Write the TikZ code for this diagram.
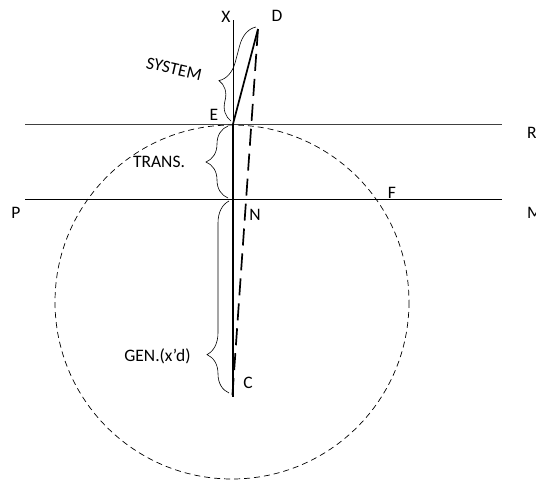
\documentclass[tikz,border=0pt]{standalone}
\usepackage{fontspec}
\setmainfont{Carlito}
\usetikzlibrary{decorations.pathreplacing}
\begin{document}
\begin{tikzpicture}[x=1pt,y=-1pt,
  lbl/.style={font=\fontsize{17.5}{20}\selectfont, inner sep=0pt},
  thinln/.style={line width=0.8pt},
  thickln/.style={line width=1.7pt},
  dashln/.style={line width=1.7pt, dash pattern=on 17pt off 8pt},
  circln/.style={line width=0.7pt, dash pattern=on 6pt off 4pt},
  brc/.style={decorate, decoration={brace, amplitude=#1}, line width=0.6pt}]
\useasboundingbox (0,0) rectangle (536,483);
% key points
\coordinate (Xt) at (233,20);
\coordinate (E) at (233,124);
\coordinate (D) at (258,29);
\coordinate (C) at (233,397);
\coordinate (Cd) at (232.3,397);
\coordinate (Rl) at (25,124);
\coordinate (Rr) at (502,124);
\coordinate (Pl) at (25,199);
\coordinate (Mr) at (502,199);
\coordinate (O) at (232,302);
% horizontal lines
\draw[thinln, black!75] (Rl) -- (Rr);
\draw[thinln] (Pl) -- (Mr);
% circle
\draw[circln] (O) circle[radius=177];
% verticals
\draw[thinln] (Xt) -- (E);
\draw[thickln] (E) -- (C);
\draw[thickln] (E) -- (D);
\draw[dashln] (D) -- (Cd);
% braces
\draw[brc=22pt, decoration={aspect=0.37}] (231,121) -- (256,27);
\draw[brc=22pt] (228,198) -- (228,126);
\draw[brc=22pt, decoration={aspect=0.2}] (229,393) -- (229,201);
% labels
\node[lbl] (lX) at (226,17) {X};
\node[lbl] (lD) at (277,16) {D};
\node[lbl] (lE) at (214,115) {E};
\node[lbl, anchor=west] (lR) at (527,133) {R};
\node[lbl, anchor=west] (lM) at (527,213) {M};
\node[lbl] (lP) at (16,213) {P};
\node[lbl] (lF) at (392,193) {F};
\node[lbl] (lN) at (255,215) {N};
\node[lbl] (lC) at (248,383) {C};
\node[lbl, rotate=-13] (lS) at (174,69) {SYSTEM};
\node[lbl] (lT) at (159,162) {TRANS.};
\node[lbl] (lG) at (157.5,356) {GEN.(x’d)};
\end{tikzpicture}
\end{document}
